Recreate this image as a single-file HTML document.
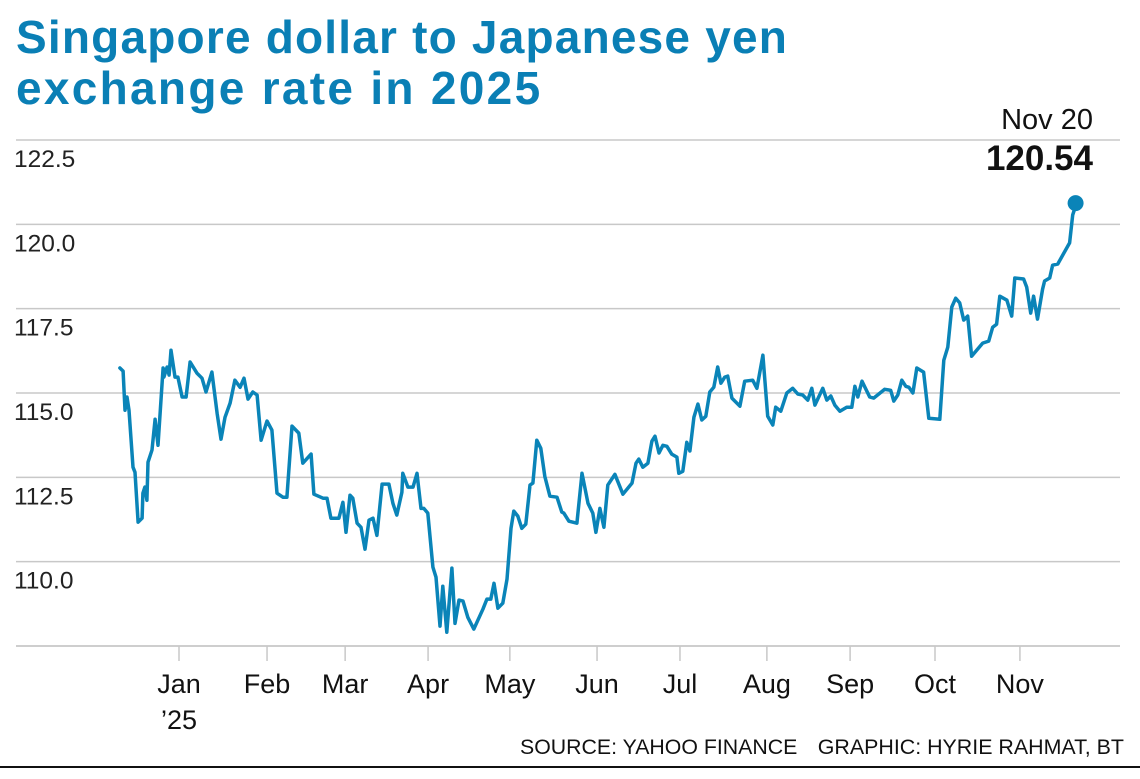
<!DOCTYPE html>
<html><head><meta charset="utf-8">
<style>
html,body{margin:0;padding:0;background:#fff;}
body{width:1140px;height:774px;overflow:hidden;font-family:"Liberation Sans",sans-serif;}
</style></head>
<body>
<svg id="chart" width="1140" height="774" viewBox="0 0 1140 774" xmlns="http://www.w3.org/2000/svg" font-family="Liberation Sans, sans-serif">
  <g fill="#0a7fb5" font-weight="bold" font-size="46" letter-spacing="1.2">
    <text x="16" y="53">Singapore dollar to Japanese yen</text>
    <text x="16" y="104" letter-spacing="2.3">exchange rate in 2025</text>
  </g>
  <g id="grid"></g>
  <g id="yticks"></g>
  <g id="xticks"></g>
  <path id="line" fill="none" stroke="#0a84b8" stroke-width="3.5" stroke-linejoin="round" stroke-linecap="round"/>
  <circle id="enddot" r="8" fill="#0a84b8"/>
  <text x="1093" y="129" text-anchor="end" font-size="29" fill="#111">Nov 20</text>
  <text id="lastval" x="1093" y="170" text-anchor="end" font-size="35" font-weight="bold" fill="#111">120.54</text>
  <text x="520" y="754" font-size="21.3" fill="#111">SOURCE: YAHOO FINANCE</text>
  <text x="1124" y="754" text-anchor="end" font-size="21.4" fill="#111">GRAPHIC: HYRIE RAHMAT, BT</text>
  <line x1="0" y1="767" x2="1140" y2="767" stroke="#111" stroke-width="2"/>
</svg>
<script>
const yTicks = [107.5, 110.0, 112.5, 115.0, 117.5, 120.0, 122.5];
const monthLabels = ["Jan","Feb","Mar","Apr","May","Jun","Jul","Aug","Sep","Oct","Nov"];
const monthDays = [0, 31, 58.5, 87.7, 116.5, 147.2, 176.4, 207, 236.3, 266.2, 296.1];
const days = [-20.8,-19.7,-19.0,-18.3,-17.6,-16.2,-15.5,-14.4,-13.0,-12.7,-12.0,-11.3,-10.9,-9.5,-8.4,-7.4,-5.6,-5.3,-4.2,-3.5,-2.8,-1.4,-0.4,1.1,2.5,3.9,6.3,8.1,9.5,11.6,13.4,14.8,16.2,18.0,19.7,21.5,22.9,24.3,26.0,27.5,28.9,31.0,32.7,34.5,36.6,38.0,39.8,42.2,43.6,46.5,47.5,50.7,52.1,53.5,56.3,57.7,58.8,60.2,61.2,62.7,64.1,65.5,66.9,68.3,69.7,71.5,73.9,75.3,76.7,78.5,78.8,80.6,82.4,83.8,85.2,86.2,87.6,89.4,90.5,91.9,92.9,94.3,96.1,97.2,98.6,100.0,101.7,103.8,107.0,108.4,109.8,110.9,112.3,114.0,115.5,116.9,117.9,119.3,120.7,122.1,123.6,124.6,126.0,127.4,128.8,130.6,133.1,134.8,135.5,137.3,140.1,141.9,144.0,145.7,146.8,148.2,149.6,151.0,153.5,156.3,159.5,160.9,161.9,163.3,165.1,166.5,167.6,169.0,170.4,171.8,173.5,175.3,176.0,177.4,178.8,179.9,181.3,182.7,184.1,185.5,186.9,188.3,189.7,190.8,192.2,193.2,194.7,197.5,199.2,202.0,203.5,205.6,207.3,209.1,210.1,211.9,214.0,216.1,217.9,219.6,221.4,222.8,223.9,226.7,228.1,229.5,230.9,232.7,235.1,236.9,238.0,239.0,240.5,243.2,244.6,248.5,250.6,251.7,253.1,254.5,255.9,257.0,258.4,259.8,262.2,264.0,267.9,269.3,270.7,272.1,273.5,274.9,276.3,277.7,279.1,283.0,285.1,286.5,287.9,289.0,291.5,293.2,294.3,297.4,298.5,299.9,300.9,302.3,304.1,304.8,306.6,307.6,309.4,311.2,313.6,314.7,315.7,316.0];
const rates = [115.74,115.65,114.49,114.88,114.49,112.80,112.65,111.17,111.29,112.03,112.21,111.82,112.95,113.31,114.22,113.45,115.74,115.47,115.77,115.53,116.27,115.47,115.47,114.88,114.88,115.92,115.59,115.44,115.03,115.62,114.40,113.63,114.28,114.70,115.38,115.17,115.44,114.82,115.03,114.94,113.60,114.17,113.90,112.03,111.91,111.91,114.02,113.81,112.92,113.19,112.00,111.88,111.88,111.29,111.29,111.76,110.87,111.97,111.88,111.14,111.02,110.37,111.23,111.29,110.78,112.30,112.30,111.73,111.38,112.06,112.62,112.21,112.21,112.62,111.58,111.58,111.44,109.84,109.54,108.09,109.27,107.91,109.81,108.17,108.86,108.83,108.35,108.00,108.59,108.89,108.89,109.36,108.62,108.77,109.48,110.99,111.50,111.35,110.99,111.11,112.27,112.33,113.60,113.36,112.53,111.94,111.91,111.47,111.44,111.20,111.14,112.62,111.73,111.44,110.87,111.58,111.02,112.27,112.59,112.00,112.33,112.92,113.04,112.80,112.92,113.57,113.72,113.22,113.45,113.42,113.19,113.10,112.62,112.68,113.54,113.28,114.28,114.67,114.20,114.31,115.03,115.17,115.77,115.29,115.47,115.50,114.85,114.61,115.35,115.38,115.14,116.12,114.31,114.05,114.58,114.46,115.00,115.14,114.97,114.94,114.79,115.14,114.64,115.14,114.79,114.91,114.64,114.46,114.58,114.58,115.20,114.88,115.35,114.88,114.85,115.11,115.08,114.76,114.94,115.38,115.20,115.17,115.00,115.74,115.62,114.25,114.22,115.97,116.36,117.55,117.81,117.67,117.16,117.28,116.09,116.48,116.54,116.95,117.04,117.87,117.75,117.28,118.41,118.38,118.14,117.37,117.87,117.19,118.08,118.32,118.41,118.79,118.82,119.09,119.45,120.28,120.54];

const NS = "http://www.w3.org/2000/svg";
const X0 = 179, PXD = 2.84, Y_TOP = 140, Y_BOT = 646, VMIN = 107.5, VMAX = 122.5;
function xScale(d){ return X0 + d * PXD; }
function yScale(v){ return Y_BOT - (v - VMIN) / (VMAX - VMIN) * (Y_BOT - Y_TOP); }
function mk(tag, attrs, parent){ const e = document.createElementNS(NS, tag); for (const k in attrs) e.setAttribute(k, attrs[k]); parent.appendChild(e); return e; }

const grid = document.getElementById('grid'), yt = document.getElementById('yticks'), xt = document.getElementById('xticks');
yTicks.forEach((v, i) => {
  const y = yScale(v);
  const gl = mk('line', {x1: 16, x2: 1120, y1: y, y2: y, stroke: i === 0 ? '#bdbdbd' : '#c8c8c8', 'stroke-width': 1.5}, grid);
  
  
  if (i > 0) {
    const t = mk('text', {x: 14, y: y + 27, 'font-size': 24.5, fill: '#222'}, yt);
    t.textContent = v.toFixed(1);
    
    
  }
});
monthLabels.forEach((m, i) => {
  const x = xScale(monthDays[i]);
  const tk = mk('line', {x1: x, x2: x, y1: Y_BOT, y2: Y_BOT + 15, stroke: '#c8c8c8', 'stroke-width': 1.5}, xt);
  
  
  const t = mk('text', {x: x, y: 693, 'font-size': 27, fill: '#111', 'text-anchor': 'middle'}, xt);
  t.textContent = m;
  
  
});
const yr = mk('text', {x: xScale(monthDays[0]), y: 729, 'font-size': 27, fill: '#111', 'text-anchor': 'middle'}, xt);
yr.textContent = "\u201925";



const n = Math.min(days.length, rates.length);
let d = '';
for (let i = 0; i < n; i++) { d += (i ? 'L' : 'M') + xScale(days[i]).toFixed(1) + ',' + yScale(rates[i]).toFixed(1); }
document.getElementById('line').setAttribute('d', d);
const last = n - 1;
const dot = document.getElementById('enddot');
dot.setAttribute('cx', xScale(days[last]));
dot.setAttribute('cy', yScale(rates[last]) - 3);
document.getElementById('lastval').textContent = rates[last].toFixed(2);
</script>
</body></html>
